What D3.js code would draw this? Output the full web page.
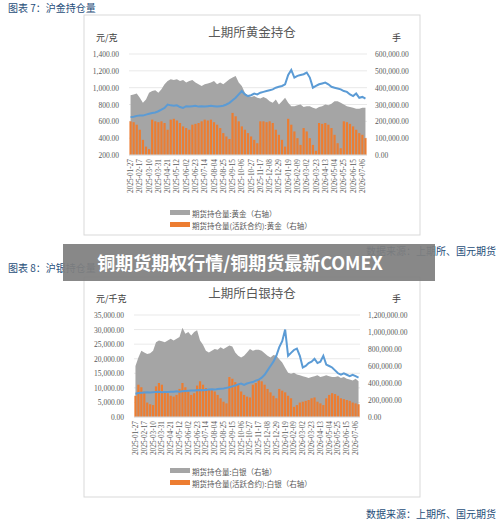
<!DOCTYPE html>
<html><head><meta charset="utf-8">
<script src="https://cdn.jsdelivr.net/npm/d3@7"></script>
<style>body{margin:0;background:#fff}svg{display:block}</style>
</head><body><svg id="c" width="500" height="525"></svg>
<script>
const tickLabels=["2025-01-27","2025-02-17","2025-03-10","2025-03-31","2025-04-21","2025-05-12","2025-06-02","2025-06-23","2025-07-14","2025-08-04","2025-08-25","2025-09-15","2025-10-06","2025-10-27","2025-11-17","2025-12-08","2025-12-29","2026-01-19","2026-02-09","2026-03-02","2026-03-23","2026-04-13","2026-05-04","2026-05-25","2026-06-15","2026-07-06"];
const goldPrice=[650,655,665,670,668,680,690,700,705,720,740,760,800,790,785,790,770,760,780,775,780,785,775,780,775,780,785,780,775,780,785,800,820,850,880,920,960,920,900,910,930,920,940,950,960,970,980,1000,1010,1020,1040,1150,1210,1120,1140,1150,1160,1180,1120,1000,1020,1040,1050,1060,1040,1010,1000,990,980,960,950,920,900,930,880,890,870];
const goldTotal=[355,360,365,340,310,330,370,380,385,370,390,420,440,450,445,450,440,445,430,440,445,430,420,410,420,425,430,440,420,430,420,435,450,460,470,430,410,370,350,345,350,340,335,345,335,320,310,330,300,320,340,310,290,290,295,300,285,290,290,280,275,285,290,300,295,305,320,320,310,300,290,285,280,275,275,280,280];
const goldActive=[200,195,180,150,90,50,35,210,200,195,200,190,150,210,215,205,190,170,160,150,180,185,190,200,210,205,210,195,180,160,130,110,95,250,230,200,170,150,130,110,90,70,200,200,195,200,190,150,120,90,50,215,180,140,100,60,160,140,100,60,25,190,185,190,180,160,120,70,40,200,195,185,170,150,130,120,100];
const silverPrice=[8000,8200,8300,8400,8500,8400,8500,8600,8700,8500,8600,8600,8700,8700,8800,8700,8800,8900,9000,9100,9100,9200,9300,9200,9300,9400,9500,9400,9600,9700,9800,10000,10200,10500,10800,11200,11500,11000,11500,11800,12000,12500,12800,13500,14500,16000,17500,19000,21000,24000,26000,30000,21000,22000,23000,23500,21000,17000,17500,18500,19000,20000,18500,19000,21000,18000,17500,17000,16000,15000,14500,15000,14500,14000,14500,14000,13500];
const silverTotal=[600,700,780,760,740,750,780,880,900,890,880,900,920,900,920,940,1050,980,1000,960,1000,1020,900,850,780,760,780,800,790,820,800,820,840,830,760,720,700,720,760,800,780,790,790,780,750,720,700,730,720,680,640,580,520,510,520,500,490,480,470,460,470,480,490,470,480,490,480,470,470,480,460,470,450,440,430,450,420];
const silverActive=[250,380,350,300,170,150,140,360,400,380,300,280,250,240,260,330,400,350,300,260,280,370,420,380,340,330,320,300,260,220,180,160,470,450,410,380,300,260,240,230,380,400,440,420,380,330,290,250,220,330,310,290,250,220,120,140,170,180,190,200,220,230,180,160,140,220,260,280,270,250,220,210,200,190,170,160,150];
const goldLeftTicks=[200,400,600,800,1000,1200,1400];
const goldRightTicks=[0,100000,200000,300000,400000,500000,600000];
const silverLeftTicks=[0,5000,10000,15000,20000,25000,30000,35000];
const silverRightTicks=[0,200000,400000,600000,800000,1000000,1200000];

const svg=d3.select("#c");
const fmt=d3.format(",.2f");
const F="'Liberation Serif','Noto Serif CJK SC','Noto Sans CJK SC',serif";
const FC="'Noto Sans CJK SC',sans-serif";

function chart(o){
  const g=svg.append("g");
  g.append("rect").attr("x",o.box[0]).attr("y",o.box[1]).attr("width",o.box[2]).attr("height",o.box[3]).attr("fill","#fff").attr("stroke","#d9d9d9");
  const n=o.price.length;
  const x=d3.scaleLinear().domain([-0.5,n-0.5]).range([o.x0,o.x1]);
  const yl=d3.scaleLinear().domain(o.ld).range([o.yb,o.yt]);
  const yr=d3.scaleLinear().domain(o.rd).range([o.yb,o.yt]);
  o.lt.forEach(t=>{
    g.append("line").attr("x1",o.x0).attr("x2",o.x1).attr("y1",yl(t)).attr("y2",yl(t)).attr("stroke","#e3e3e3").attr("stroke-width",0.8);
    g.append("text").attr("x",o.x0-10).attr("y",yl(t)+3).attr("text-anchor","end").attr("font-size",7.5).attr("font-family",F).attr("fill","#595959").text(fmt(t));
  });
  o.rt.forEach(t=>{
    g.append("text").attr("x",o.x1+8).attr("y",yr(t)+3).attr("font-size",7.5).attr("font-family",F).attr("fill","#595959").text(fmt(t));
  });
  const idx=d3.range(n);
  g.append("path").datum(idx).attr("fill","#a5a5a5")
   .attr("d",d3.area().x(i=>x(i)).y0(o.yb).y1(i=>yr(o.total[i]*1000)));
  g.selectAll(null).data(idx).enter().append("rect")
   .attr("x",i=>x(i)-1.1).attr("width",2.2)
   .attr("y",i=>yr(o.active[i]*1000)).attr("height",i=>o.yb-yr(o.active[i]*1000)).attr("fill","#ed7d31");
  g.append("path").datum(idx).attr("fill","none").attr("stroke","#5b9bd5").attr("stroke-width",2)
   .attr("d",d3.line().x(i=>x(i)).y(i=>yl(o.price[i])));
  g.append("line").attr("x1",o.x0).attr("x2",o.x1).attr("y1",o.yb).attr("y2",o.yb).attr("stroke","#d9d9d9");
  tickLabels.forEach((t,k)=>{
    const px=x(k*3);
    g.append("text").attr("transform",`translate(${px+2.5},${o.yb+4}) rotate(-90)`).attr("text-anchor","end")
     .attr("font-size",7.3).attr("font-family",F).attr("fill","#595959").text(t);
  });
  g.append("text").attr("x",(o.box[0]+o.box[0]+o.box[2])/2).attr("y",o.titleY).attr("text-anchor","middle").attr("font-size",12.5).attr("font-family",FC).attr("fill","#595959").text(o.title);
  g.append("text").attr("x",o.unitX).attr("y",o.unitY).attr("font-size",9).attr("font-family",FC).attr("fill","#404040").text(o.unit);
  g.append("text").attr("x",o.box[0]+o.box[2]-28).attr("y",o.unitY).attr("font-size",9).attr("font-family",FC).attr("fill","#404040").text("手");
  o.legend.forEach((l,k)=>{
    const yy=o.legY+k*12;
    g.append("rect").attr("x",170).attr("y",yy-4).attr("width",20).attr("height",5).attr("fill",k?"#ed7d31":"#a5a5a5");
    g.append("text").attr("x",192).attr("y",yy+2.5).attr("font-size",7.5).attr("font-family",FC).attr("fill","#595959").text(l);
  });
}
svg.append("text").attr("x",8).attr("y",12).attr("font-size",10).attr("font-family",FC).attr("fill","#1f4e79").text("图表 7：沪金持仓量");
chart({box:[84,15,336,220],x0:129,x1:367,yb:155,yt:54,ld:[200,1400],rd:[0,600000],lt:goldLeftTicks,rt:goldRightTicks,
  price:goldPrice,total:goldTotal,active:goldActive,title:"上期所黄金持仓",titleY:37,unit:"元/克",unitX:96,unitY:41,
  legY:214,legend:["期货持仓量:黄金（右轴）","期货持仓量(活跃合约):黄金（右轴）"]});
svg.append("text").attr("x",8).attr("y",272).attr("font-size",10).attr("font-family",FC).attr("fill","#1f4e79").text("图表 8：沪银持仓量");
chart({box:[84,277,336,220],x0:134,x1:360,yb:417,yt:315,ld:[0,35000],rd:[0,1200000],lt:silverLeftTicks,rt:silverRightTicks,
  price:silverPrice,total:silverTotal,active:silverActive,title:"上期所白银持仓",titleY:298,unit:"元/千克",unitX:96,unitY:302,
  legY:472,legend:["期货持仓量:白银（右轴）","期货持仓量(活跃合约):白银（右轴）"]});
svg.append("text").attr("x",496).attr("y",255).attr("text-anchor","end").attr("font-size",10).attr("font-family",FC).attr("fill","#1f4e79").text("数据来源：上期所、国元期货");
svg.append("text").attr("x",496).attr("y",518).attr("text-anchor","end").attr("font-size",10).attr("font-family",FC).attr("fill","#1f4e79").text("数据来源：上期所、国元期货");
svg.append("rect").attr("x",63).attr("y",244).attr("width",372).attr("height",37).attr("fill","#7f7f7f").attr("opacity",0.93);
svg.append("text").attr("x",240).attr("y",270).attr("text-anchor","middle").attr("font-size",18).attr("font-weight","bold").attr("font-family",FC).attr("fill","#fff").text("铜期货期权行情/铜期货最新COMEX");
</script></body></html>
